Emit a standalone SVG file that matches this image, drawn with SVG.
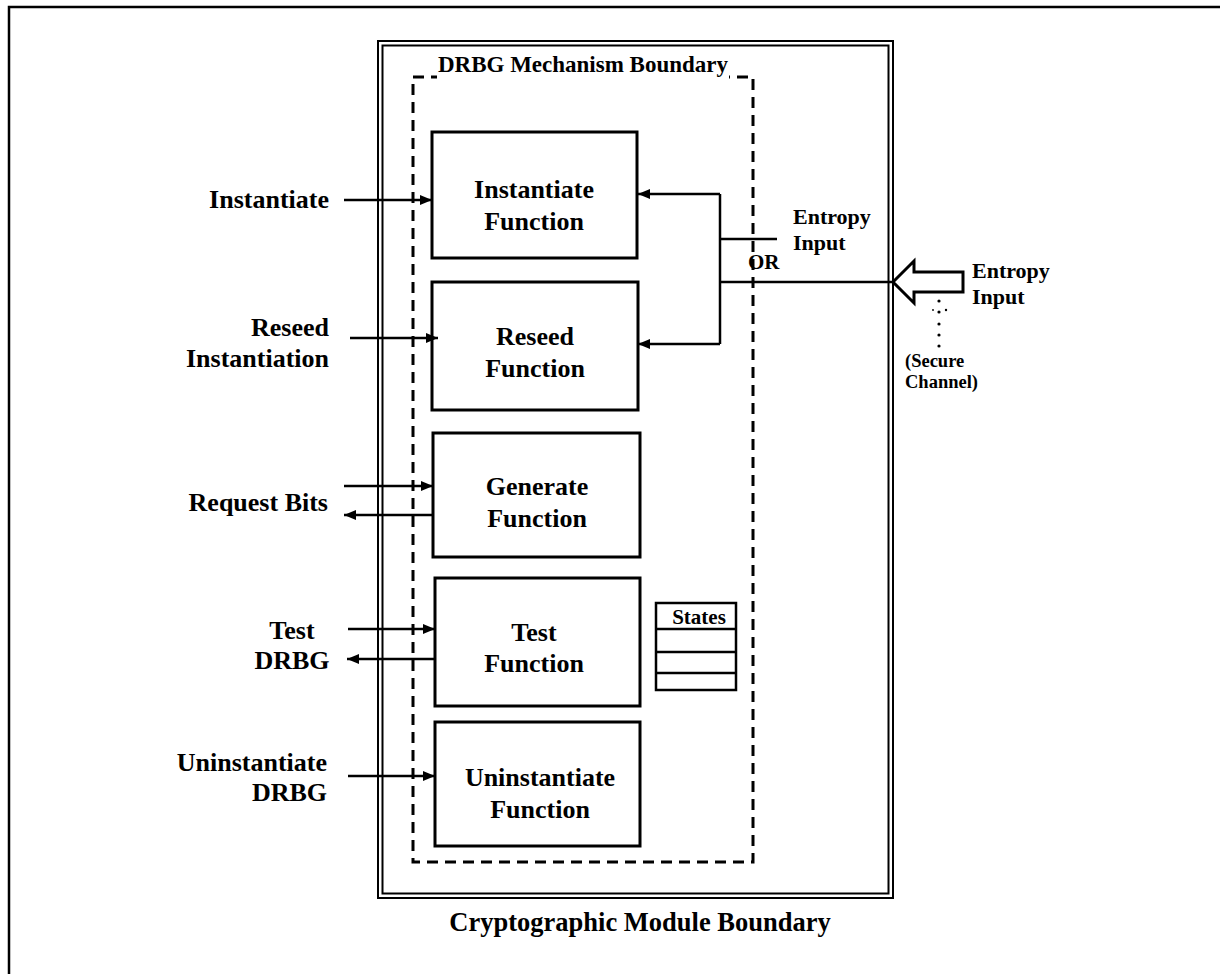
<svg xmlns="http://www.w3.org/2000/svg" width="1220" height="974" viewBox="0 0 1220 974">
<style>
text{font-family:"Liberation Serif","Times New Roman",serif;font-weight:bold;fill:#000}
.lbl{font-size:26px}
.box{fill:#fff;stroke:#000;stroke-width:3}
.con{fill:none;stroke:#000;stroke-width:2.5}
.bd{fill:none;stroke:#000;stroke-width:2}
</style>
<defs>
<marker id="ah" markerUnits="userSpaceOnUse" markerWidth="12" markerHeight="10" refX="12" refY="5" orient="auto">
<path d="M0,0 L12,5 L0,10 z" fill="#000"/>
</marker>
</defs>
<rect width="1220" height="974" fill="#fff"/>
<path d="M9,974 V7 H1220" fill="none" stroke="#000" stroke-width="2.5"/>

<g id="module-boundary">
<rect class="bd" x="378" y="41" width="515" height="857"/>
<rect class="bd" x="382.5" y="45.5" width="506" height="848"/>
<text x="640" y="931" font-size="26.5" text-anchor="middle">Cryptographic Module Boundary</text>
</g>

<g id="drbg-boundary">
<rect x="413" y="77" width="340" height="785" fill="none" stroke="#000" stroke-width="3" stroke-dasharray="11 7"/>
<rect x="437" y="72" width="292" height="10" fill="#fff"/>
<text x="583" y="72" font-size="23" text-anchor="middle">DRBG Mechanism Boundary</text>
</g>

<g id="instantiate-function">
<rect class="box" x="432" y="132" width="205" height="126"/>
<text class="lbl" x="534" y="198" text-anchor="middle">Instantiate</text>
<text class="lbl" x="534" y="230" text-anchor="middle">Function</text>
</g>
<g id="reseed-function">
<rect class="box" x="432" y="282" width="206" height="128"/>
<text class="lbl" x="535" y="345" text-anchor="middle">Reseed</text>
<text class="lbl" x="535" y="377" text-anchor="middle">Function</text>
</g>
<g id="generate-function">
<rect class="box" x="433" y="433" width="207" height="124"/>
<text class="lbl" x="537" y="495" text-anchor="middle">Generate</text>
<text class="lbl" x="537" y="527" text-anchor="middle">Function</text>
</g>
<g id="test-function">
<rect class="box" x="435" y="578" width="205" height="128"/>
<text class="lbl" x="534" y="641" text-anchor="middle">Test</text>
<text class="lbl" x="534" y="672" text-anchor="middle">Function</text>
</g>
<g id="uninstantiate-function">
<rect class="box" x="435" y="722" width="205" height="124"/>
<text class="lbl" x="540" y="786" text-anchor="middle">Uninstantiate</text>
<text class="lbl" x="540" y="818" text-anchor="middle">Function</text>
</g>

<g id="states">
<rect x="656" y="603" width="80" height="87" fill="#fff" stroke="#000" stroke-width="2.5"/>
<path d="M656,629 H736 M656,652 H736 M656,673 H736" stroke="#000" stroke-width="2.5"/>
<text x="699" y="624" font-size="21" text-anchor="middle">States</text>
</g>

<g id="labels">
<text class="lbl" x="329" y="208" text-anchor="end">Instantiate</text>
<text class="lbl" x="329" y="336" text-anchor="end">Reseed</text>
<text class="lbl" x="329" y="367" text-anchor="end">Instantiation</text>
<text class="lbl" x="328" y="511" text-anchor="end">Request Bits</text>
<text class="lbl" x="292" y="639" text-anchor="middle">Test</text>
<text class="lbl" x="292" y="669" text-anchor="middle">DRBG</text>
<text class="lbl" x="327" y="771" text-anchor="end">Uninstantiate</text>
<text class="lbl" x="327" y="801" text-anchor="end">DRBG</text>
<text x="793" y="224" font-size="22">Entropy</text>
<text x="793" y="250" font-size="22">Input</text>
<text x="748" y="269" font-size="21">OR</text>
<text x="972" y="278" font-size="22">Entropy</text>
<text x="972" y="304" font-size="22">Input</text>
<text x="905" y="367" font-size="18.5">(Secure</text>
<text x="905" y="388" font-size="18.5">Channel)</text>
</g>

<g id="connectors">
<path class="con" d="M344,200 H432" marker-end="url(#ah)"/>
<path class="con" d="M350,338 H438" marker-end="url(#ah)"/>
<path class="con" d="M344,486 H433" marker-end="url(#ah)"/>
<path class="con" d="M433,515 H344" marker-end="url(#ah)"/>
<path class="con" d="M348,629 H435" marker-end="url(#ah)"/>
<path class="con" d="M435,659 H347" marker-end="url(#ah)"/>
<path class="con" d="M348,776 H435" marker-end="url(#ah)"/>
<path class="con" d="M720,194 H638" marker-end="url(#ah)"/>
<path class="con" d="M720,344 H638" marker-end="url(#ah)"/>
<path class="con" d="M720,194 V344"/>
<path class="con" d="M720,239 H777"/>
<path class="con" d="M720,282 H892"/>
<polygon points="893,282 914,261 914,272 963,272 963,292 914,292 914,303" fill="#fff" stroke="#000" stroke-width="3" stroke-linejoin="miter"/>
<g fill="#000">
<circle cx="939" cy="301" r="1.6"/>
<circle cx="933" cy="310" r="0.9"/>
<circle cx="939" cy="312" r="1.6"/>
<circle cx="946" cy="310" r="1.2"/>
<circle cx="939" cy="324" r="1.6"/>
<circle cx="939" cy="335" r="1.6"/>
<circle cx="939" cy="346" r="1.6"/>
</g>
</g>
</svg>
